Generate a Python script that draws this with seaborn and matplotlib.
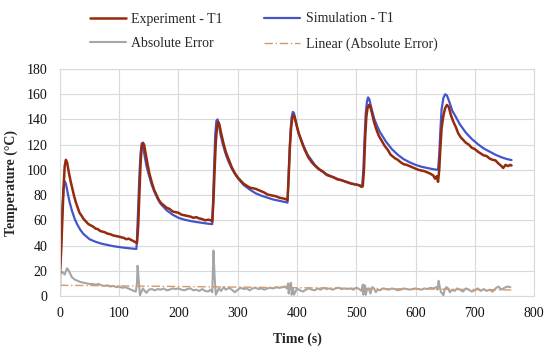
import pandas as pd
import seaborn as sns
import matplotlib.pyplot as plt

# Simulation - T1 (time s, temperature C)
sim_t = [0, 2, 4, 6, 8, 10, 13, 16, 20, 25, 30, 35, 40, 50, 60, 70, 80, 90, 100, 110, 120, 129,
         130, 132, 134, 136, 138, 140, 143, 146, 150, 155, 160, 165, 170, 180, 190, 200, 210, 220, 230, 240, 250, 257,
         258, 260, 262, 264, 266, 268, 271, 275, 280, 285, 290, 295, 300, 310, 320, 330, 340, 350, 360, 370, 380, 384,
         385, 387, 389, 391, 393, 395, 398, 402, 407, 412, 418, 424, 430, 440, 450, 460, 470, 480, 490, 500, 510,
         512, 514, 516, 518, 520, 522, 525, 530, 535, 540, 550, 560, 570, 580, 590, 600, 610, 620, 630, 638,
         640, 642, 644, 647, 650, 653, 657, 662, 668, 675, 685, 695, 705, 715, 725, 735, 745, 755, 762]
sim_v = [18, 45, 70, 85, 91, 89, 82, 75, 68, 61, 56, 52, 49, 45, 43, 41.5, 40.5, 39.5, 38.8, 38.2, 37.7, 37.3,
         45, 70, 95, 113, 121, 119, 111, 103, 96, 88, 82, 77, 73, 68, 64.5, 62, 60.5, 59.5, 58.7, 58, 57.3, 57,
         70, 100, 128, 139, 140, 136, 128, 120, 112, 106, 101, 97, 93.5, 88, 84.5, 81.5, 79.5, 78, 76.5, 75.5, 74.5, 74,
         85, 110, 130, 142, 146, 145, 138, 130, 124, 118, 112, 108, 104, 99.5, 96.5, 94.5, 92.5, 91, 89.5, 88.3, 87.3,
         100, 125, 145, 154, 157.5, 156, 150, 141, 135, 130, 122.5, 116.5, 112, 108.5, 106, 104, 102.5, 101.5, 100.5, 100,
         112, 132, 148, 157, 160, 159, 154, 147, 142, 136, 129.5, 124.5, 120.5, 117, 114.5, 112, 110, 108.5, 107.8]

# Experiment - T1
exp_t = [0, 2, 4, 6, 8, 10, 12, 15, 18, 21, 24, 27, 30, 33, 36, 40, 44, 48, 52, 56, 60, 64, 68, 72, 76, 80,
         85, 90, 95, 100, 104, 108, 112, 116, 120, 124, 128, 130,
         132, 134, 136, 138, 140, 142, 145, 148, 151, 155, 159, 163, 167, 171, 175, 180, 185, 190, 195, 200,
         205, 210, 215, 220, 225, 230, 235, 240, 245, 250, 255, 257,
         259, 261, 263, 265, 267, 269, 272, 276, 280, 285, 290, 295, 300, 305, 310, 315, 320, 325, 330, 335,
         340, 345, 350, 355, 360, 365, 370, 375, 380, 384,
         386, 388, 390, 392, 394, 396, 399, 403, 408, 413, 419, 425, 431, 437, 443, 450, 456, 462, 468, 474,
         480, 486, 492, 498, 504, 509, 511,
         513, 515, 517, 519, 521, 523, 526, 530, 534, 538, 543, 548, 553, 558, 562, 566, 570, 575, 580, 585,
         590, 595, 600, 605, 610, 615, 620, 625, 630, 633, 636, 638,
         640, 642, 644, 647, 650, 653, 656, 660, 664, 668, 672, 676, 680, 685, 690, 695, 700, 705, 710, 715,
         720, 725, 730, 735, 740, 745, 748, 752, 756, 760, 762]
exp_v = [18, 35, 60, 85, 103, 108, 106, 98, 91, 85, 79, 74, 70, 66, 64, 61, 59, 57, 56, 55, 53.5, 53, 51.5, 51, 50.5, 49.5,
         49, 48, 47.5, 47, 46.5, 46, 45, 45.5, 44.5, 43.5, 42.5, 42,
         55, 80, 105, 118, 121.5, 120, 112, 104, 97, 90, 84, 80, 76, 73.5, 72, 70, 69, 67, 66.5, 66,
         64.5, 64, 63.5, 63, 62, 62.5, 61.5, 61, 60, 60.5, 60, 59,
         75, 100, 122, 134, 138, 136, 129, 121, 114, 108, 102, 97.5, 94, 91.5, 89, 87.5, 86, 85.5, 85, 84,
         83, 82, 80.5, 80, 79.5, 79, 78, 77.5, 77, 76,
         95, 118, 133, 141, 143.5, 142, 136, 129, 122, 116, 110, 106, 103, 100.5, 99, 96, 95, 94, 92.5, 92,
         91, 90, 89, 88.5, 88, 86.5, 87,
         100, 125, 142, 149, 151.5, 151, 146, 138, 132, 127, 123, 119, 116, 112, 110.5, 109, 108, 106, 104.5, 104,
         103, 102, 101, 100, 99.5, 99, 98, 97, 95.5, 93, 95, 90.5,
         100, 118, 133, 143, 149, 151.5, 150, 143, 138, 134, 129, 126, 124, 121.5, 120, 117.5, 116.5, 114.5, 113, 111.5,
         111, 109, 108, 107.5, 105, 103, 101.5, 104, 103, 104, 103.5]

# Absolute Error
err_t = [0, 1, 4, 8, 12, 15, 20, 25, 30, 35, 40, 45, 50, 55, 60, 65, 70, 75, 80, 85, 90, 95, 100, 105, 110,
         115, 120, 125, 128, 130, 131, 133, 135, 137, 140, 143, 146, 150, 155, 160, 165, 170, 175, 180, 185,
         190, 195, 200, 205, 210, 215, 220, 225, 230, 235, 240, 245, 250, 254, 257, 259, 261, 263, 265, 268,
         272, 276, 280, 285, 290, 295, 300, 305, 310, 315, 320, 325, 330, 335, 340, 345, 350, 355, 360, 365,
         370, 375, 380, 383, 385, 386, 388, 390, 391, 393, 395, 397, 400, 405, 410, 415, 420, 425, 430, 435,
         440, 445, 450, 455, 460, 465, 470, 475, 480, 485, 490, 495, 500, 505, 509, 511, 512, 514, 515, 516,
         518, 521, 524, 527, 530, 533, 536, 540, 545, 550, 555, 560, 565, 570, 575, 580, 585, 590, 595, 600,
         605, 610, 615, 620, 625, 630, 635, 637, 639, 641, 643, 645, 647, 649, 652, 655, 658, 662, 666, 670,
         675, 680, 685, 690, 695, 700, 705, 710, 715, 720, 725, 730, 735, 740, 745, 750, 755, 760]
err_v = [0, 18, 19, 17, 22, 20, 15, 13, 12, 11, 10.5, 10, 9.5, 9.5, 9, 9.5, 8.5, 8, 8.5, 7.5, 8, 7, 7.5, 6.5, 7,
         6, 5, 4, 3.5, 10, 24, 12, 0.5, 3, 6, 4, 2.5, 5, 5.5, 4.5, 5.5, 5, 6, 4.5, 5,
         6, 5.5, 6, 5, 4.5, 5.5, 6, 4.5, 5, 4, 5.5, 4, 3.5, 5, 3, 36, 15, 1, 3, 6,
         4, 7, 5, 6.5, 5, 3, 5, 6.5, 5.5, 6, 4.5, 6, 6.5, 5.5, 6, 5, 6, 6.5, 6, 7,
         6.5, 7, 7.5, 6, 10, 2, 9, 10.5, 1, 6, 1, 3, 6, 4.5, 3.5, 5, 6, 5, 4.5, 6,
         5, 6.5, 5.5, 6, 5, 6, 6.5, 5.5, 6, 5.5, 6, 5, 6.5, 5.5, 4, 9, 1, 8.5, 8, 1,
         5, 6, 2, 7, 6, 3, 5, 4.5, 6, 5.5, 5, 6, 5.5, 4.5, 5, 6, 5.5, 5, 5.5, 6,
         5.5, 5, 6, 5.5, 6.5, 6, 7, 5, 12, 7, 3, 2, 0.5, 5, 7, 6, 3, 5, 4, 6,
         5, 3.5, 6, 5, 3.5, 4.5, 6, 4, 5.5, 4, 5, 3.5, 6, 7.5, 5, 6.5, 7.5, 7]

# Linear (Absolute Error) trend line end points
trend_t = [0, 762]
trend_v = [8.5, 4.8]

sns.set_style("white")
plt.rcParams["font.family"] = ["Liberation Serif", "DejaVu Serif"]

fig = plt.figure(figsize=(5.5, 3.53), dpi=100)
ax = fig.add_axes([0.109, 0.1615, 0.862, 0.643])

sns.lineplot(x=err_t, y=err_v, ax=ax, color="#a6a6a6", linewidth=1.5, label="Absolute Error")
sns.lineplot(x=trend_t, y=trend_v, ax=ax, color="#d39a6c", linewidth=1.0,
             linestyle=(0, (6, 2, 1, 2)), label="Linear (Absolute Error)")
sns.lineplot(x=sim_t, y=sim_v, ax=ax, color="#4555c9", linewidth=1.6, label="Simulation - T1")
sns.lineplot(x=exp_t, y=exp_v, ax=ax, color="#952a0c", linewidth=1.8, label="Experiment - T1")

ax.set_xlim(0, 800)
ax.set_ylim(0, 180)
ax.set_xticks(range(0, 801, 100))
ax.set_yticks(range(0, 181, 20))
ax.grid(True, color="#d9d9d9", linewidth=0.8)
for s in ax.spines.values():
    s.set_color("#d9d9d9")
    s.set_linewidth(0.8)
ax.tick_params(axis="both", length=0, labelsize=10, colors="#111111")
ax.tick_params(axis="y", pad=9)
ax.tick_params(axis="x", pad=8)
ax.set_xlabel("Time (s)", fontsize=10, fontweight="bold", labelpad=9)
ax.set_ylabel("Temperature (°C)", fontsize=10, fontweight="bold", labelpad=6)

h, l = ax.get_legend_handles_labels()
ax.get_legend().remove()
order = [3, 0, 2, 1]
fig.legend([h[i] for i in order], [l[i] for i in order], ncol=2, frameon=False,
           loc="upper left", bbox_to_anchor=(0.14, 1.0), fontsize=10,
           handlelength=2.6, handletextpad=0.4, columnspacing=3.0, labelspacing=0.85)

plt.savefig("out.png", dpi=100)
plt.close()
